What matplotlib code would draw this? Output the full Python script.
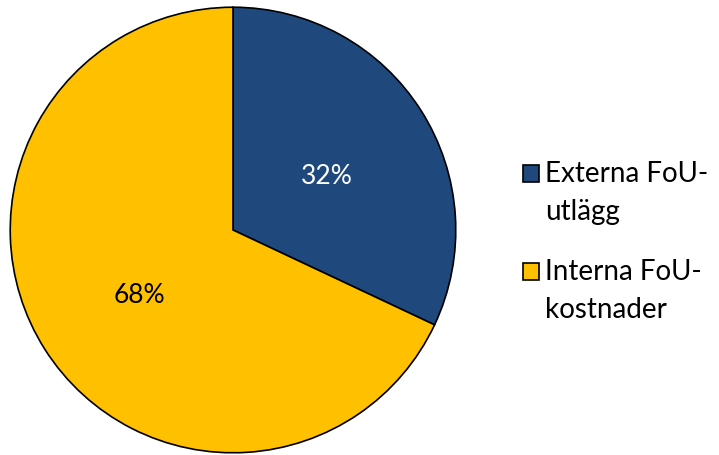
import matplotlib.pyplot as plt
from matplotlib.patches import Rectangle

plt.rcParams['font.family'] = ['Lato', 'DejaVu Sans']

labels = ['Externa FoU-\nutlägg', 'Interna FoU-\nkostnader']
shares = [32, 68]
colors = ['#1F497D', '#FFC000']
pct_colors = ['white', 'black']

fig = plt.figure(figsize=(7.19, 4.55), dpi=100)
ax = fig.add_axes([8 / 719, 0, 450 / 719, 450 / 455])

wedges, texts, autotexts = ax.pie(
    shares, colors=colors, startangle=90, counterclock=False,
    autopct='%1.0f%%', pctdistance=0.5,
    wedgeprops=dict(edgecolor='black', linewidth=1.2),
    textprops=dict(fontsize=19))
for t, c in zip(autotexts, pct_colors):
    t.set_color(c)
    x, y = t.get_position()
    t.set_position((x, y - 0.027))
ax.set_aspect('equal')
ax.set_xlim(-1.01, 1.01)
ax.set_ylim(-1.01, 1.01)

# legend drawn by hand in figure pixels
y_tops = [165, 263]
for lab, col, yt in zip(labels, colors, y_tops):
    fig.patches.append(Rectangle((523 / 719, 1 - (yt + 17) / 455), 16 / 719, 17 / 455,
                                 transform=fig.transFigure, facecolor=col,
                                 edgecolor='black', linewidth=1.2))
    fig.text(545 / 719, 1 - (yt - 4) / 455, lab, fontsize=20, va='top', ha='left',
             linespacing=1.55)

fig.savefig('out.png', dpi=100)
